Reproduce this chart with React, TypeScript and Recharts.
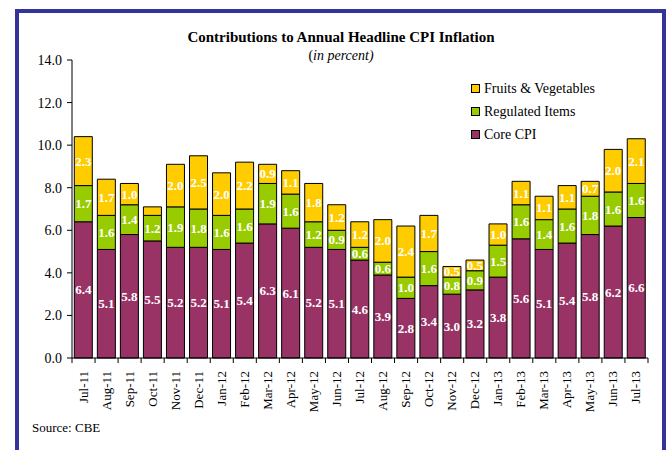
import React from 'react';
import { BarChart, Bar, XAxis, YAxis, LabelList } from 'recharts';

const categories = ['Jul-11','Aug-11','Sep-11','Oct-11','Nov-11','Dec-11','Jan-12','Feb-12','Mar-12','Apr-12','May-12','Jun-12','Jul-12','Aug-12','Sep-12','Oct-12','Nov-12','Dec-12','Jan-13','Feb-13','Mar-13','Apr-13','May-13','Jun-13','Jul-13'];
const coreCPI = [6.4,5.1,5.8,5.5,5.2,5.2,5.1,5.4,6.3,6.1,5.2,5.1,4.6,3.9,2.8,3.4,3.0,3.2,3.8,5.6,5.1,5.4,5.8,6.2,6.6];
const regulatedItems = [1.7,1.6,1.4,1.2,1.9,1.8,1.6,1.6,1.9,1.6,1.2,0.9,0.6,0.6,1.0,1.6,0.8,0.9,1.5,1.6,1.4,1.6,1.8,1.6,1.6];
const fruitsVeg = [2.3,1.7,1.0,0.4,2.0,2.5,2.0,2.2,0.9,1.1,1.8,1.2,1.2,2.0,2.4,1.7,0.5,0.5,1.0,1.1,1.1,1.1,0.7,2.0,2.1];
const yTicks = [0,2,4,6,8,10,12,14];

const series = [
  { key: 'fruits', name: 'Fruits & Vegetables', color: '#FFCC00' },
  { key: 'regulated', name: 'Regulated Items', color: '#99CC00' },
  { key: 'core', name: 'Core CPI', color: '#993366' },
];

const data = categories.map((c, i) => ({
  month: c,
  core: coreCPI[i],
  regulated: regulatedItems[i],
  fruits: fruitsVeg[i],
}));

const FONT = '"Liberation Serif", "Times New Roman", serif';
const W = 669;
const H = 450;
const M = { top: 60, right: 21, left: 15, bottom: 6 };
const YW = 57;
const XH = 86;
const plotW = W - M.left - M.right - YW;
const band = plotW / categories.length;

const XTick = (props: any) => {
  const { x, y, payload, index } = props;
  const left = x - band / 2;
  return (
    <g>
      <line x1={left} y1={y - 8} x2={left} y2={y - 3} stroke="#000" strokeWidth={1} />
      {index === categories.length - 1 && (
        <line x1={x + band / 2} y1={y - 8} x2={x + band / 2} y2={y - 3} stroke="#000" strokeWidth={1} />
      )}
      <text
        x={0}
        y={0}
        transform={`translate(${x + 4},${y + 5}) rotate(-90)`}
        textAnchor="end"
        fontFamily={FONT}
        fontSize={13}
        fill="#000"
      >
        {payload.value}
      </text>
    </g>
  );
};

const SegLabel = (props: any) => {
  const { x, y, width, height, value } = props;
  if (value == null || value < 0.45) return null;
  return (
    <text
      x={x + width / 2}
      y={y + height / 2}
      dy={4.5}
      textAnchor="middle"
      fill="#fff"
      fontFamily={FONT}
      fontWeight="bold"
      fontSize={13}
    >
      {Number(value).toFixed(1)}
    </text>
  );
};

export default function App() {
  return (
    <div style={{ position: 'absolute', left: 0, top: 0, width: W, height: H, overflow: 'hidden', background: '#fff', fontFamily: FONT }}>
      <div style={{ position: 'absolute', left: 15, top: 9, width: 651, height: 600, border: '4px solid #333399', boxSizing: 'border-box' }} />
      <div style={{ position: 'absolute', left: 0, width: 682, top: 29, textAlign: 'center', fontWeight: 'bold', fontSize: 15, lineHeight: '17px', color: '#000' }}>
        Contributions to Annual Headline CPI Inflation
      </div>
      <div style={{ position: 'absolute', left: 0, width: 682, top: 48, textAlign: 'center', fontSize: 14, lineHeight: '16px', color: '#000' }}>
        (<i>in percent)</i>
      </div>
      <div style={{ position: 'absolute', left: 471, top: 77 }}>
        {series.map((s) => (
          <div key={s.key} style={{ display: 'flex', alignItems: 'center', height: 23, fontSize: 14 }}>
            <span style={{ display: 'inline-block', width: 7, height: 7, background: s.color, border: '1px solid #000', marginRight: 4 }} />
            <span>{s.name}</span>
          </div>
        ))}
      </div>
      <div style={{ position: 'absolute', left: 32, top: 420, fontSize: 13, lineHeight: '16px' }}>Source: CBE</div>
      <div style={{ position: 'absolute', left: 0, top: 0 }}>
        <BarChart width={W} height={H} data={data} margin={M} barCategoryGap="10%">
          <XAxis
            dataKey="month"
            interval={0}
            height={XH}
            tickLine={false}
            axisLine={{ stroke: '#000' }}
            tick={<XTick />}
          />
          <YAxis
            width={YW}
            domain={[0, 14]}
            ticks={yTicks}
            interval={0}
            tickFormatter={(v: number) => v.toFixed(1)}
            axisLine={{ stroke: '#000' }}
            tickLine={{ stroke: '#000' }}
            tickSize={5}
            tickMargin={5}
            tick={{ fill: '#000', fontSize: 14, fontFamily: FONT }}
          />
          <Bar dataKey="core" stackId="a" fill="#993366" stroke="#000" strokeWidth={1} isAnimationActive={false}>
            <LabelList dataKey="core" content={<SegLabel />} />
          </Bar>
          <Bar dataKey="regulated" stackId="a" fill="#99CC00" stroke="#000" strokeWidth={1} isAnimationActive={false}>
            <LabelList dataKey="regulated" content={<SegLabel />} />
          </Bar>
          <Bar dataKey="fruits" stackId="a" fill="#FFCC00" stroke="#000" strokeWidth={1} isAnimationActive={false}>
            <LabelList dataKey="fruits" content={<SegLabel />} />
          </Bar>
        </BarChart>
      </div>
    </div>
  );
}
